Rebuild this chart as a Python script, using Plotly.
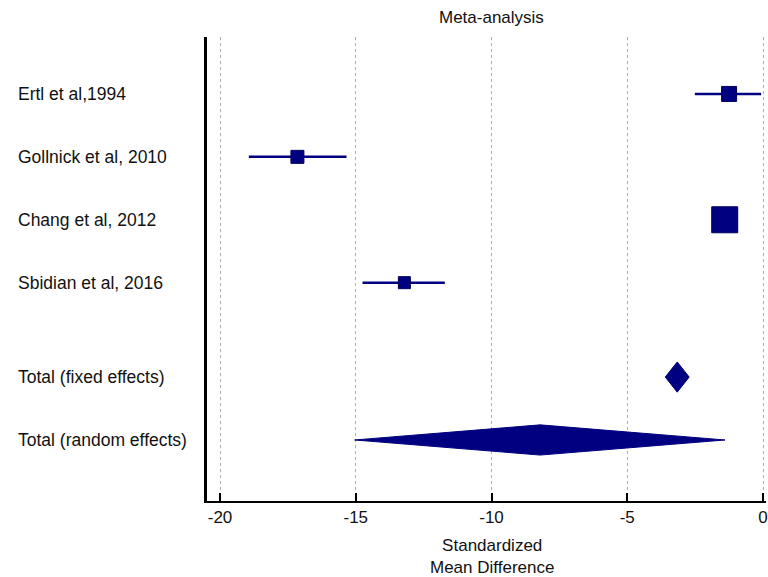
import plotly.graph_objects as go

# Study data
studies = ["Ertl et al,1994", "Gollnick et al, 2010", "Chang et al, 2012", "Sbidian et al, 2016"]
study_rows = [0, 1, 2, 3]
smd = [-1.25, -17.15, -1.41, -13.21]
ci_low = [-2.51, -18.94, -1.50, -14.75]
ci_high = [-0.07, -15.34, -1.32, -11.72]
weight_size = [15, 13, 26, 12]

# Pooled estimates
pooled_labels = ["Total (fixed effects)", "Total (random effects)"]
pooled_rows = [4.5, 5.5]
pooled_est = [-3.16, -8.21]
pooled_low = [-3.60, -15.04]
pooled_high = [-2.72, -1.40]

x_ticks = [-20, -15, -10, -5, 0]

NAVY = "#000080"
FONT = "Liberation Sans, Arial, sans-serif"
TXT = "#111111"

fig = go.Figure()

# Confidence interval lines
ci_x, ci_y = [], []
for lo, hi, r in zip(ci_low, ci_high, study_rows):
    ci_x += [lo, hi, None]
    ci_y += [r, r, None]
fig.add_trace(go.Scatter(x=ci_x, y=ci_y, mode="lines",
                         line=dict(color=NAVY, width=2.5),
                         hoverinfo="skip", showlegend=False))

# Study squares
fig.add_trace(go.Scatter(x=smd, y=study_rows, mode="markers",
                         marker=dict(symbol="square", size=weight_size, color=NAVY, opacity=1,
                                     line=dict(color="#00005a", width=1)),
                         showlegend=False))

# Pooled diamonds
half_h = 0.24
for lo, est, hi, r in zip(pooled_low, pooled_est, pooled_high, pooled_rows):
    fig.add_trace(go.Scatter(x=[lo, est, hi, est, lo], y=[r, r - half_h, r, r + half_h, r],
                             mode="lines", fill="toself", fillcolor=NAVY,
                             line=dict(color=NAVY, width=1), showlegend=False))

# Row labels
PLOT_L = 207
PLOT_W = 768 - PLOT_L
for lab, r in zip(studies + pooled_labels, study_rows + pooled_rows):
    fig.add_annotation(x=(15 - PLOT_L) / PLOT_W, xref="paper", y=r, yref="y",
                       text=lab, showarrow=False, xanchor="left", yanchor="middle",
                       font=dict(family=FONT, size=17.5, color=TXT))

# Title
fig.add_annotation(x=-10, xref="x", y=1, yref="paper", yanchor="bottom", yshift=8,
                   text="Meta-analysis", showarrow=False,
                   font=dict(family=FONT, size=17, color=TXT))

# X-axis title
fig.add_annotation(x=-10, xref="x", y=0, yref="paper", yanchor="top", yshift=-33,
                   text="Standardized<br>Mean Difference", showarrow=False,
                   font=dict(family=FONT, size=17, color=TXT))

fig.update_layout(
    width=768, height=577,
    margin=dict(l=PLOT_L, r=0, t=37, b=76),
    paper_bgcolor="white", plot_bgcolor="white",
    font=dict(family=FONT, size=17, color=TXT),
    showlegend=False,
)
fig.update_xaxes(range=[-20.48, 0.11], tickvals=x_ticks, ticktext=[str(t) for t in x_ticks],
                 showgrid=True, gridcolor="#b0b0b0", griddash="dot", gridwidth=1,
                 zeroline=False, showline=True, linecolor="black", linewidth=2,
                 ticks="inside", ticklen=8, tickwidth=2, tickcolor="black",
                 ticklabeloverflow="allow",
                 tickfont=dict(family=FONT, size=17, color=TXT))
fig.update_yaxes(range=[6.47, -0.905], showgrid=False, zeroline=False,
                 showticklabels=False, showline=True, linecolor="black", linewidth=3,
                 ticks="")

fig.write_html("out.html", config={"displayModeBar": False},
               post_script="document.body.style.margin='0';document.body.style.padding='0';document.body.style.overflow='hidden';")
